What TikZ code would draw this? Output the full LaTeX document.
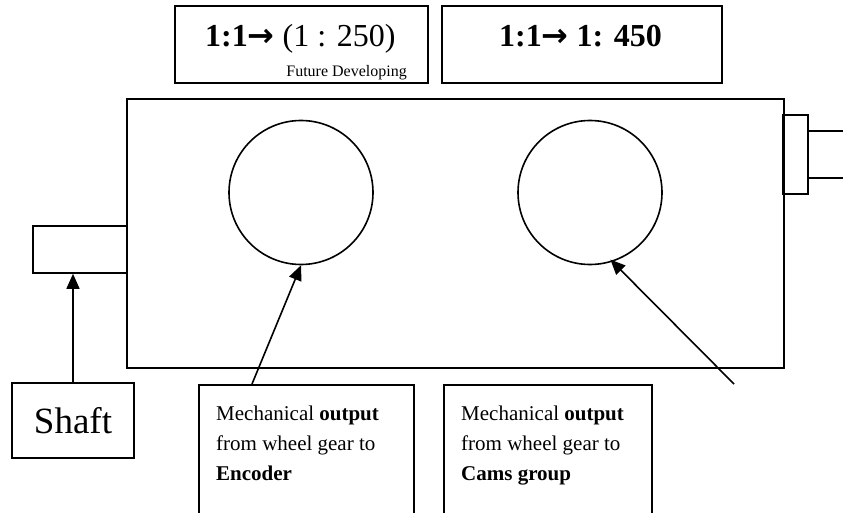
\documentclass[tikz,border=0pt]{standalone}
\usepackage{fontspec}
\setmainfont{Liberation Serif}
\newfontfamily\arrowfont{DejaVu Sans}
\usetikzlibrary{arrows.meta}

\newcommand{\rarr}{{\arrowfont\bfseries →}}

\tikzset{
  frame/.style={draw, line width=1.6pt, rectangle, inner sep=0pt},
  gear/.style={draw, line width=1.6pt, circle, inner sep=0pt, minimum size=144pt},
  link/.style={line width=1.6pt},
  pointer/.style={line width=1.6pt, -{Triangle[length=15pt,width=13pt]}},
  label/.style={inner sep=0pt, anchor=base west},
}

\begin{document}
\begin{tikzpicture}[x=1pt, y=-1pt]
  \useasboundingbox (0,0) rectangle (843,513);
  \clip (0,0) rectangle (843,513);

  % ratio boxes on top
  \node[frame, minimum width=253pt, minimum height=77pt] (ratioA) at (301.5,44.5) {};
  \node[frame, minimum width=280pt, minimum height=77pt] (ratioB) at (582,44.5) {};
  \node[label, font=\fontsize{32}{37}\selectfont] (ratioAtxt) at (205,47)
    {\textbf{1:1}\rarr\ (1 : 250)};
  \node[inner sep=0pt, anchor=base east, font=\fontsize{16}{19}\selectfont] (future) at (407,77)
    {Future Developing};
  \node[label, font=\fontsize{32}{37}\selectfont\bfseries] (ratioBtxt) at (499,47)
    {1:1\rarr\ 1: 450};

  % gearbox housing
  \node[frame, minimum width=657pt, minimum height=269pt] (housing) at (455.5,233.5) {};

  % input stub on the left, output stub on the right
  \node[frame, minimum width=94pt, minimum height=47pt] (stub) at (80,249.5) {};
  \node[frame, minimum width=25pt, minimum height=79pt] (rstub) at (795.5,154.5) {};
  \coordinate (rtop) at (843,131);
  \coordinate (rbot) at (843,178);
  \draw[link] (rstub.east |- rtop) -- (rtop);
  \draw[link] (rstub.east |- rbot) -- (rbot);

  % wheel gears
  \node[gear] (gearL) at (301,192.5) {};
  \node[gear] (gearR) at (590,192.5) {};

  % shaft
  \node[frame, minimum width=122pt, minimum height=75pt, font=\fontsize{37}{42}\selectfont] (shaft) at (73,420.5) {Shaft};
  \draw[pointer] (shaft.north) -- (shaft.north |- stub.south);

  % output descriptions
  \node[frame, anchor=north west, minimum width=215pt, minimum height=160pt] (enc) at (198,384) {};
  \node[frame, anchor=north west, minimum width=208pt, minimum height=160pt] (cams) at (443,384) {};
  \node[inner sep=0pt, anchor=north west, align=left, font=\fontsize{21}{30}\selectfont] (enctxt)
    at (216,405.5) {Mechanical \textbf{output}\\from wheel gear to\\\textbf{Encoder}};
  \node[inner sep=0pt, anchor=north west, align=left, font=\fontsize{21}{30}\selectfont] (camstxt)
    at (461,405.5) {Mechanical \textbf{output}\\from wheel gear to\\\textbf{Cams group}};

  \coordinate (encfoot) at (252,384);
  \coordinate (camsfoot) at (734,384);
  \draw[pointer] (encfoot) -- (gearL.south);
  \draw[pointer, shorten >=-3pt] (camsfoot) -- (gearR.-72);
\end{tikzpicture}
\end{document}
